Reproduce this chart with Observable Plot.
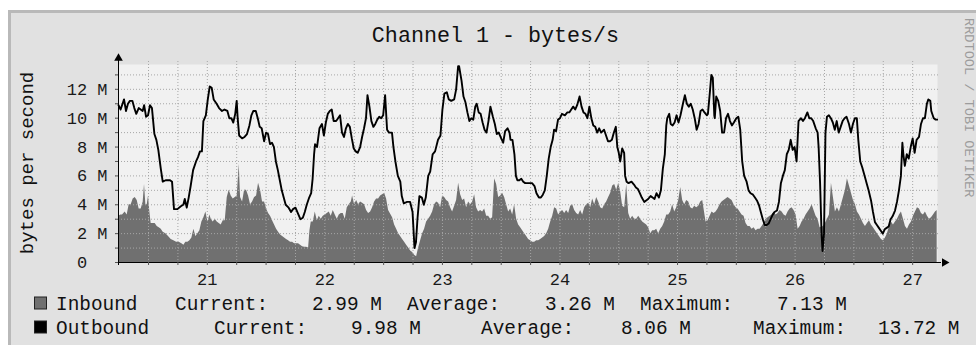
<!DOCTYPE html>
<html><head><meta charset="utf-8">
<script src="https://cdn.jsdelivr.net/npm/d3@7"></script>
<script src="https://cdn.jsdelivr.net/npm/@observablehq/plot@0.6"></script>
<style>
body{margin:0;background:#fff}
#wrap{position:relative;width:976px;height:345px;overflow:hidden}
#bg{position:absolute;left:8px;top:10px;width:968px;height:335px;box-sizing:border-box;background:#e1e1e1;border-left:3px solid #b9b9b9;border-top:3px solid #b9b9b9}
#chart{position:absolute;left:0;top:0}
svg text{white-space:pre}
</style></head><body>
<div id="wrap"><div id="bg"></div><div id="chart"></div></div>
<script>
const FONT = "'Liberation Mono', 'DejaVu Sans Mono', monospace";
const titleText = "Channel 1 - bytes/s";
const yTitleText = "bytes per second";
const creditText = "RRDTOOL / TOBI OETIKER";
const dayLabels = ["21","22","23","24","25","26","27"];
const dayNoonHours = [12,36,60,84,108,132,156];
const yTickValues = [0,2,4,6,8,10,12];
const yTickLabels = ["0  ","2 M","4 M","6 M","8 M","10 M","12 M"];
const legendNames = ["Inbound","Outbound"];
const legendColors = ["#707070","#000000"];
const legendCurrent = ["2.99 M","9.98 M"];
const legendAverage = ["3.26 M","8.06 M"];
const legendMaximum = ["7.13 M","13.72 M"];
// time in hours since the 21st 00:00, value in M bytes/s
const outboundSamples = [[-6.13,10.9],[-5.7,10.6],[-5.3,11.0],[-5.0,11.3],[-4.6,10.5],[-4.2,11.0],[-3.8,11.2],[-3.3,11.2],[-2.9,10.7],[-2.5,10.3],[-2.0,10.7],[-1.6,10.6],[-1.2,10.5],[-0.9,10.9],[-0.5,10.1],[-0.1,10.2],[0.3,10.9],[0.7,10.7],[1.2,8.9],[1.6,8.5],[2.0,7.8],[2.5,6.5],[2.9,5.6],[3.5,5.7],[4.4,5.7],[4.8,5.6],[5.2,3.7],[5.9,3.7],[6.6,3.9],[7.1,4.0],[7.4,4.4],[7.8,3.8],[8.2,4.5],[8.6,5.3],[9.1,6.4],[9.7,7.0],[10.1,7.3],[10.5,7.7],[10.9,7.7],[11.2,9.8],[11.7,10.2],[12.1,11.3],[12.5,12.2],[12.9,12.1],[13.3,11.3],[13.9,11.0],[14.4,10.7],[15.0,10.5],[15.5,10.6],[16.1,10.5],[16.5,10.0],[16.9,10.0],[17.3,9.7],[17.7,10.3],[18.0,11.2],[18.2,10.0],[18.5,8.8],[19.1,8.6],[19.6,8.7],[20.1,8.9],[20.6,9.5],[21.0,10.2],[21.4,10.5],[21.9,10.5],[22.3,10.0],[22.7,9.4],[23.1,9.3],[23.6,8.4],[24.0,9.0],[24.4,8.9],[24.8,8.2],[25.2,8.3],[25.6,8.0],[26.0,7.0],[26.4,6.4],[26.8,5.7],[27.2,5.0],[27.6,4.5],[28.0,4.0],[28.6,3.8],[29.1,3.5],[29.5,3.7],[30.0,3.8],[30.5,3.4],[31.0,3.0],[31.5,3.1],[31.9,3.5],[32.3,4.0],[32.8,4.5],[33.2,4.8],[33.5,5.8],[33.8,7.5],[34.0,8.2],[34.4,8.0],[34.9,9.3],[35.4,9.6],[35.8,8.8],[36.2,9.7],[36.6,10.3],[37.0,10.5],[37.4,10.6],[37.8,9.8],[38.3,9.8],[38.7,10.0],[39.1,10.2],[39.5,9.0],[39.9,8.7],[40.3,9.3],[40.7,9.6],[41.1,9.4],[41.5,8.6],[41.9,7.9],[42.3,7.7],[42.7,7.6],[43.2,8.0],[43.6,8.7],[44.0,9.3],[44.4,10.0],[44.7,11.6],[45.1,10.8],[45.5,9.8],[45.9,9.4],[46.3,9.6],[46.7,9.9],[47.1,10.1],[47.5,10.0],[47.9,10.2],[48.3,11.6],[48.7,9.2],[49.1,9.0],[49.7,9.0],[50.0,8.0],[50.4,7.0],[50.9,6.0],[51.4,5.6],[51.7,4.6],[52.1,4.1],[52.8,4.2],[53.4,4.2],[53.9,3.5],[54.3,1.0],[54.6,1.4],[54.9,3.0],[55.3,4.6],[55.8,4.5],[56.2,4.0],[56.6,4.5],[57.1,6.0],[57.5,6.3],[58.0,7.5],[58.5,7.7],[59.1,8.5],[59.6,8.8],[60.0,10.6],[60.4,11.7],[60.9,11.8],[61.3,11.3],[61.8,11.2],[62.4,11.3],[62.8,12.0],[63.2,13.6],[63.4,13.6],[63.9,12.6],[64.3,11.5],[64.7,11.1],[65.1,10.4],[65.5,9.8],[65.9,10.0],[66.3,9.9],[66.7,10.8],[67.0,11.0],[67.4,10.4],[67.8,10.3],[68.2,9.7],[68.6,9.2],[69.0,9.0],[69.4,9.8],[69.8,10.8],[70.3,10.1],[70.7,9.6],[71.1,8.9],[71.5,9.0],[72.0,8.6],[72.4,8.3],[72.8,9.1],[73.3,9.3],[73.7,9.0],[73.9,8.5],[74.3,8.5],[74.7,7.5],[75.0,6.0],[75.3,5.7],[75.7,5.7],[76.1,5.8],[76.5,5.6],[76.9,5.5],[77.5,5.5],[77.9,5.5],[78.3,5.5],[78.8,5.3],[79.2,4.8],[79.7,4.5],[80.1,4.5],[80.5,4.7],[80.9,5.0],[81.3,6.0],[81.7,7.2],[82.1,8.0],[82.5,8.5],[82.8,9.2],[83.2,9.1],[83.6,9.9],[84.0,10.0],[84.4,10.3],[85.0,10.2],[85.5,10.4],[85.9,10.4],[86.3,10.6],[86.7,10.8],[87.1,10.6],[87.5,10.9],[88.0,11.5],[88.4,10.8],[88.8,10.4],[89.2,10.3],[89.6,10.0],[90.0,10.8],[90.4,10.0],[90.8,9.5],[91.2,9.4],[91.6,9.0],[92.0,9.3],[92.4,9.0],[93.0,9.2],[93.4,8.8],[93.8,8.4],[94.2,8.4],[94.6,8.5],[95.0,9.0],[95.4,9.4],[95.7,8.0],[96.0,7.6],[96.3,7.0],[96.7,7.9],[97.1,7.6],[97.3,6.0],[97.6,5.6],[98.0,5.5],[98.6,5.6],[99.1,5.4],[99.5,5.2],[99.9,5.1],[100.3,4.8],[100.7,4.5],[101.2,4.2],[101.6,4.3],[102.0,4.4],[102.5,4.6],[102.9,4.5],[103.3,4.4],[103.7,4.8],[104.2,4.5],[104.6,5.0],[105.0,6.5],[105.4,7.5],[105.7,9.5],[105.9,10.0],[106.3,10.3],[106.6,9.6],[107.0,9.5],[107.4,9.7],[107.8,10.2],[108.2,9.7],[108.6,10.2],[109.1,11.0],[109.5,11.6],[109.9,11.0],[110.3,10.8],[110.7,11.0],[111.1,10.6],[111.5,10.0],[111.9,9.2],[112.3,9.6],[112.7,10.5],[113.1,10.6],[113.5,10.4],[114.0,10.2],[114.2,10.3],[114.6,11.8],[114.9,13.0],[115.2,12.8],[115.5,10.2],[115.6,10.0],[115.9,11.5],[116.3,11.2],[116.7,10.5],[117.1,9.0],[117.5,9.0],[117.9,10.0],[118.3,10.3],[118.7,9.8],[119.1,9.5],[119.5,9.7],[120.0,10.0],[120.4,10.1],[120.8,9.2],[121.2,7.0],[121.6,6.0],[122.1,5.6],[122.5,5.0],[122.9,4.8],[123.4,4.7],[123.8,4.5],[124.2,4.3],[124.6,4.0],[125.0,3.5],[125.4,3.0],[125.8,2.6],[126.2,2.6],[126.6,2.7],[127.0,3.0],[127.4,3.3],[127.8,3.5],[128.3,3.6],[128.7,4.2],[129.1,5.5],[129.5,6.0],[129.9,6.4],[130.3,7.5],[130.7,7.8],[131.1,8.5],[131.5,7.8],[131.9,8.0],[132.3,7.0],[132.7,9.8],[133.2,10.0],[133.6,9.8],[134.0,10.0],[134.5,10.4],[134.9,10.0],[135.3,10.0],[135.7,9.8],[136.2,9.3],[136.6,9.0],[136.8,8.0],[137.1,5.5],[137.4,2.0],[137.6,0.8],[137.9,2.0],[138.2,9.0],[138.5,10.1],[138.9,10.2],[139.3,10.0],[139.7,9.7],[140.1,9.2],[140.5,9.8],[140.9,9.0],[141.3,9.4],[141.7,9.8],[142.1,10.0],[142.5,10.1],[143.0,9.6],[143.4,9.0],[143.8,9.6],[144.2,10.0],[144.6,10.0],[144.9,8.5],[145.3,7.0],[145.7,6.6],[146.2,6.0],[146.6,5.5],[147.0,5.0],[147.5,4.3],[147.9,3.5],[148.3,2.8],[148.7,2.6],[149.1,2.4],[149.5,2.2],[149.9,2.0],[150.3,2.3],[150.7,2.4],[151.1,2.5],[151.5,3.0],[151.9,3.2],[152.4,3.6],[152.8,4.2],[153.2,5.0],[153.6,6.0],[153.9,8.3],[154.1,7.5],[154.4,6.7],[154.8,7.5],[155.2,7.2],[155.6,8.0],[156.0,8.6],[156.4,7.6],[156.8,8.5],[157.3,8.7],[157.7,9.6],[158.1,10.0],[158.5,10.0],[158.9,11.0],[159.2,11.3],[159.6,11.2],[159.8,10.5],[160.3,10.0],[160.7,9.9],[161.0,9.9]];
const inboundSamples = [[-6.13,3.2],[-5.65,3.3],[-5.31,3.3],[-4.77,3.5],[-4.36,3.3],[-3.95,4.0],[-3.54,4.0],[-3.13,4.4],[-2.72,4.5],[-2.31,4.3],[-1.91,3.7],[-1.5,3.7],[-1.09,4.2],[-0.82,5.4],[-0.54,4.0],[-0.27,4.0],[0,4.6],[0.27,3.5],[0.54,2.7],[0.95,2.7],[1.36,2.7],[1.77,2.5],[2.18,2.4],[2.59,2.3],[3.0,2.1],[3.54,2.0],[4.08,1.8],[4.63,1.6],[5.17,1.5],[5.72,1.4],[6.26,1.4],[6.81,1.3],[7.22,1.2],[7.62,1.4],[8.03,1.4],[8.44,1.5],[8.85,1.7],[9.26,2.3],[9.67,1.8],[10.07,2.0],[10.48,2.2],[10.89,2.8],[11.3,3.1],[11.71,3.5],[12.12,2.8],[12.53,3.3],[12.8,3.0],[13.21,2.8],[13.61,3.0],[14.02,2.8],[14.43,2.7],[14.84,2.6],[15.25,2.9],[15.66,2.9],[16.07,4.5],[16.47,5.0],[16.88,4.6],[17.29,4.4],[17.7,4.5],[18.11,4.6],[18.52,6.8],[18.79,4.5],[19.2,4.2],[19.61,5.0],[20.01,5.0],[20.42,4.6],[20.83,4.0],[21.24,4.2],[21.65,4.5],[22.06,4.6],[22.46,5.5],[22.87,5.0],[23.28,4.2],[23.69,4.2],[24.1,3.7],[24.51,3.4],[24.91,3.2],[25.32,2.9],[25.73,2.6],[26.14,2.3],[26.55,2.1],[26.96,1.9],[27.37,1.8],[27.77,1.7],[28.18,1.6],[28.59,1.5],[29.0,1.4],[29.41,1.4],[29.82,1.3],[30.22,1.3],[30.63,1.3],[31.04,1.2],[31.45,1.1],[31.86,1.05],[32.27,1.05],[32.68,1.0],[32.95,2.2],[33.22,2.8],[33.63,2.8],[34.04,3.5],[34.45,2.9],[34.85,3.2],[35.26,3.0],[35.67,3.2],[36.08,3.3],[36.49,3.4],[36.9,3.5],[37.3,3.2],[37.71,3.6],[38.12,3.3],[38.53,3.0],[38.94,3.3],[39.35,3.4],[39.75,3.4],[40.16,3.0],[40.57,3.8],[40.98,4.0],[41.39,4.2],[41.66,4.6],[42.07,4.0],[42.48,4.3],[42.89,4.0],[43.29,4.2],[43.7,4.1],[44.11,4.0],[44.52,3.6],[44.93,3.4],[45.34,3.5],[45.75,3.8],[46.15,4.2],[46.56,4.4],[46.97,4.4],[47.38,4.6],[47.79,4.7],[48.2,4.8],[48.6,4.4],[49.01,3.6],[49.83,3.1],[50.24,2.6],[50.65,2.3],[51.06,2.0],[51.46,1.8],[51.87,1.6],[52.28,1.4],[52.69,1.2],[53.1,1.0],[53.51,0.8],[53.91,0.7],[54.32,0.5],[54.73,0.4],[55.14,1.0],[55.55,1.5],[55.96,2.0],[56.36,2.3],[56.77,2.8],[57.18,3.0],[57.59,3.2],[58.0,3.5],[58.41,4.0],[58.82,4.2],[59.22,4.1],[59.63,3.8],[60.04,4.6],[60.45,4.5],[60.86,4.3],[61.27,4.2],[61.67,3.8],[62.08,3.5],[62.49,3.9],[62.9,4.3],[63.31,5.5],[63.72,4.7],[64.13,4.3],[64.53,4.4],[64.94,3.8],[65.35,4.2],[65.76,4.0],[66.17,4.2],[66.58,4.7],[66.98,3.8],[67.39,3.5],[67.8,3.6],[68.21,3.5],[68.62,3.7],[69.03,3.2],[69.44,3.2],[69.84,3.0],[70.25,3.1],[70.66,5.8],[71.07,5.4],[71.48,4.5],[71.89,4.6],[72.29,4.8],[72.7,4.5],[73.11,4.0],[73.52,3.5],[73.93,3.7],[74.34,3.3],[74.74,4.0],[75.15,3.0],[75.56,2.6],[75.97,2.4],[76.38,2.2],[76.79,2.0],[77.2,1.8],[77.6,1.6],[78.01,1.5],[78.42,1.4],[78.83,1.4],[79.24,1.5],[79.65,1.5],[80.05,1.6],[80.46,1.7],[80.87,1.8],[81.28,2.0],[81.69,2.3],[82.1,2.8],[82.51,3.2],[82.91,3.8],[83.32,3.7],[83.73,3.3],[84.14,3.5],[84.55,3.6],[84.96,3.4],[85.36,3.6],[85.77,3.4],[86.18,3.9],[86.59,4.0],[87.0,3.6],[87.41,3.4],[87.81,3.3],[88.22,3.6],[88.63,3.3],[89.04,3.8],[89.45,4.0],[89.86,4.1],[90.27,3.8],[90.67,4.4],[91.08,4.0],[91.49,4.5],[91.9,4.2],[92.31,3.8],[92.72,3.7],[93.12,4.0],[93.53,4.2],[93.94,4.5],[94.35,4.8],[94.76,5.3],[95.17,5.4],[95.58,5.0],[95.98,5.5],[96.39,4.9],[96.8,3.9],[97.21,3.8],[97.62,5.4],[98.03,3.4],[98.43,3.0],[98.84,3.2],[99.25,3.0],[99.66,3.0],[100.07,3.2],[100.48,3.0],[100.88,2.8],[101.29,2.7],[101.7,2.6],[102.11,2.4],[102.52,2.0],[102.93,2.2],[103.34,2.2],[103.74,2.3],[104.15,2.0],[104.56,2.3],[104.97,2.5],[105.38,2.8],[105.79,3.3],[106.19,3.3],[106.6,3.5],[107.01,4.0],[107.42,3.5],[107.83,3.8],[108.24,4.3],[108.65,5.2],[109.05,4.3],[109.46,4.0],[109.87,4.3],[110.28,4.2],[110.69,3.8],[111.1,3.7],[111.5,3.9],[111.91,3.8],[112.32,3.9],[112.73,4.2],[113.14,4.3],[113.41,3.7],[113.82,2.8],[114.23,2.9],[114.64,3.2],[115.04,3.5],[115.45,3.4],[115.86,3.5],[116.27,3.7],[116.68,4.0],[117.09,4.2],[117.49,4.3],[117.9,4.4],[118.31,4.5],[118.72,4.4],[119.13,4.3],[119.54,4.0],[119.95,3.8],[120.35,3.7],[120.76,3.5],[121.17,3.3],[121.58,3.2],[121.99,2.7],[122.4,2.5],[122.81,2.5],[123.21,2.3],[123.62,2.4],[124.03,2.2],[124.44,2.3],[124.85,2.3],[125.26,2.5],[125.66,2.7],[126.07,3.0],[126.48,3.1],[126.89,3.2],[127.3,3.3],[127.71,3.5],[128.11,3.3],[128.52,3.4],[128.93,3.6],[129.34,3.5],[129.75,3.3],[130.16,3.2],[130.56,3.5],[130.97,3.7],[131.38,3.8],[131.79,3.6],[132.2,3.3],[132.61,2.3],[133.02,2.5],[133.42,2.8],[133.83,3.0],[134.24,3.3],[134.65,3.5],[135.06,3.7],[135.47,4.0],[135.87,3.6],[136.28,3.2],[136.69,3.0],[137.1,2.4],[137.78,2.5],[138.19,2.7],[138.6,3.0],[139.01,3.3],[139.42,5.5],[139.82,4.5],[140.23,3.5],[140.64,3.8],[141.05,3.5],[141.46,4.0],[141.87,4.5],[142.27,5.0],[142.68,5.8],[143.09,5.3],[143.5,4.8],[143.91,4.3],[144.32,4.0],[144.72,3.5],[145.13,3.3],[145.54,3.0],[145.95,2.7],[146.36,2.5],[146.77,2.7],[147.18,2.9],[147.58,2.6],[147.99,2.4],[148.4,2.2],[148.81,2.0],[149.22,1.8],[149.63,1.6],[150.03,1.5],[150.44,1.7],[150.85,2.0],[151.26,2.5],[151.67,2.8],[152.08,2.6],[152.48,2.8],[152.89,3.0],[153.3,3.3],[153.71,3.5],[154.12,3.0],[154.53,2.5],[154.94,2.3],[155.34,2.6],[155.75,2.8],[156.16,3.2],[156.57,3.5],[156.98,3.8],[157.39,3.7],[157.79,3.4],[158.2,3.3],[158.61,3.5],[159.02,3.2],[159.43,3.0],[159.84,3.1],[160.25,3.3],[160.66,3.5],[161.0,3.6]];

const xDomain = [-6.13, 161.07];
const yDomain = [0, 13.72];
const outbound = outboundSamples.map(([t, v]) => ({t, v}));
const inbound = inboundSamples.map(([t, v]) => ({t, v}));
const gridX = d3.range(0, 162, 6);
const gridY = d3.range(1, 14, 1);
const GRID = "#a6a6a6";

const plot = Plot.plot({
  width: 976, height: 345,
  marginLeft: 118, marginRight: 39, marginTop: 64, marginBottom: 83,
  x: {domain: xDomain, axis: null, label: null},
  y: {domain: yDomain, axis: null, label: null},
  style: {background: "transparent", fontFamily: FONT, overflow: "visible", color: "#1a1a1a"},
  marks: [
    Plot.frame({fill: "#f1f1f1", stroke: "none"}),
    Plot.areaY(inbound, {x: "t", y: "v", fill: "#707070"}),
    Plot.ruleY(gridY, {stroke: GRID, strokeDasharray: "1,2", insetLeft: -3, insetRight: -3}),
    Plot.ruleX(gridX, {stroke: GRID, strokeDasharray: "1,2", insetTop: -3, insetBottom: -3}),
    Plot.line(outbound, {x: "t", y: "v", stroke: "#000", strokeWidth: 1.9}),
    Plot.ruleY([0], {stroke: "#000", insetLeft: -3, insetRight: -4}),
    Plot.ruleX([xDomain[0]], {stroke: "#000", insetTop: -4, insetBottom: -3}),
    Plot.dot([0], {frameAnchor: "top-left", symbol: "triangle", r: 3.2, fill: "#000", stroke: "none", dy: -6.3}),
    Plot.dot([0], {frameAnchor: "bottom-right", symbol: "triangle", r: 3.2, fill: "#000", stroke: "none", rotate: 90, dx: 7}),
    Plot.axisY({ticks: d3.range(0, 14), tickSize: 3, tickFormat: () => "", stroke: "#555", label: null}),
    Plot.axisY({ticks: yTickValues, tickFormat: d => yTickLabels[yTickValues.indexOf(d)], tickSize: 0, tickPadding: 11, fontSize: 17, fontFamily: FONT, label: null}),
    Plot.axisX({ticks: gridX, tickSize: 3, tickFormat: () => "", stroke: "#555", label: null}),
    Plot.axisX({ticks: dayNoonHours, tickFormat: d => dayLabels[dayNoonHours.indexOf(d)], tickSize: 0, tickPadding: 10, fontSize: 17, fontFamily: FONT, label: null})
  ]
});
document.getElementById("chart").appendChild(plot);

const svg = d3.select(plot);
svg.append("text").attr("x", 495.5).attr("y", 42).attr("text-anchor", "middle")
  .attr("font-family", FONT).attr("font-size", 21.7).attr("fill", "#111").text(titleText);
svg.append("text").attr("transform", "translate(33.3,163) rotate(-90)").attr("text-anchor", "middle")
  .attr("font-family", FONT).attr("font-size", 19).attr("fill", "#111").text(yTitleText);
svg.append("text").attr("transform", "translate(965,18) rotate(90)").attr("text-anchor", "start")
  .attr("font-family", FONT).attr("font-size", 13.6).attr("fill", "#9c9c9c").text(creditText);

const legendY = [309.5, 333.5];
const legendCols = [
  {name: 56, cur: 175, curV: 312, avg: 407, avgV: 545, max: 640, maxV: 777},
  {name: 56, cur: 214, curV: 351, avg: 481, avgV: 621, max: 753, maxV: 878}
];
legendNames.forEach((name, i) => {
  const y = legendY[i], c = legendCols[i];
  svg.append("rect").attr("x", 34.5).attr("y", y - 12.5).attr("width", 12).attr("height", 12)
    .attr("fill", legendColors[i]).attr("stroke", "#222").attr("stroke-width", 1);
  const g = svg.append("g").attr("font-family", FONT).attr("font-size", 19.4)
    .attr("fill", "#111").attr("text-anchor", "start");
  [[c.name, name], [c.cur, "Current:"], [c.curV, legendCurrent[i]], [c.avg, "Average:"],
   [c.avgV, legendAverage[i]], [c.max, "Maximum:"], [c.maxV, legendMaximum[i]]]
    .forEach(([x, s]) => g.append("text").attr("x", x).attr("y", y).text(s));
});
</script>
</body></html>
